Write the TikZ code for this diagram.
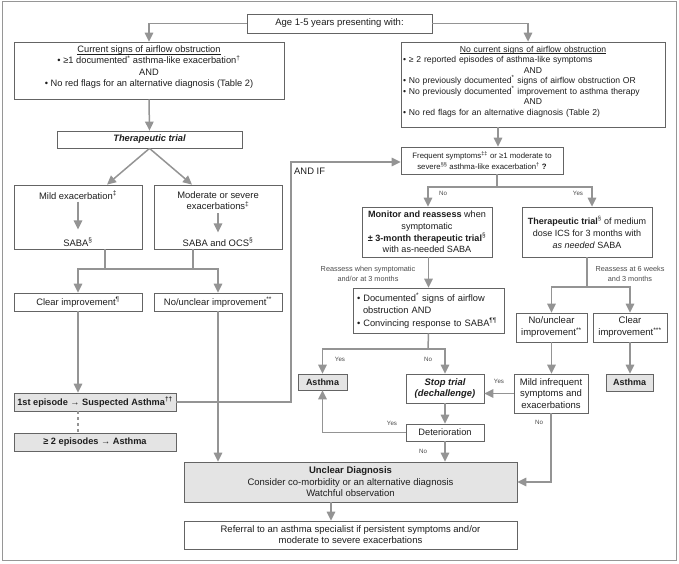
\documentclass[tikz,border=0pt]{standalone}
\usepackage{fontspec}
\setmainfont{Liberation Sans}
\usetikzlibrary{arrows.meta,calc}
\definecolor{lc}{RGB}{148,148,148}
\definecolor{bc}{RGB}{100,100,100}
\definecolor{gf}{RGB}{228,228,228}
\definecolor{tc}{RGB}{30,30,30}
\definecolor{fc}{RGB}{150,150,150}
\newcommand{\fs}[2]{\fontsize{#1}{#2}\selectfont}
\newcommand{\ctr}[1]{\makebox[260pt][c]{#1}}
\newcommand{\ulx}[1]{\underline{\smash{#1}}}
\tikzset{
 box/.style={draw=bc, line width=0.8pt, fill=white, inner sep=0pt, text=tc, font=\fs{9.4}{11}},
 gbox/.style={box, fill=gf},
 txt/.style={inner sep=0pt, text=tc, font=\fs{9.4}{11}},
 conn/.style={draw=lc, line width=1.5pt},
 arr/.style={conn, -{Triangle[length=9pt,width=8.5pt]}},
 lab/.style={font=\fs{6.2}{7.5}, text=tc!80, inner sep=0pt},
 rlab/.style={font=\fs{7.3}{9.5}, text=tc!80, inner sep=0pt, align=center},
}
\begin{document}
\begin{tikzpicture}[x=1pt,y=-1pt]
\useasboundingbox (0,0) rectangle (679,564);
\draw[fc, line width=1pt] (2,2) rectangle (676,560);

% nodes
\node[box, minimum width=185pt, minimum height=19pt, font=\fs{9.5}{11}] (age) at (339.5,23.5) {Age 1-5 years presenting with:};
\node[box, minimum width=270pt, minimum height=57pt, align=center, font=\fs{9.3}{11.3}] (l1) at (149,70.5)
 {\ulx{Current signs of airflow obstruction}\\ • ≥1 documented\textsuperscript{*} asthma-like exacerbation\textsuperscript{†}\\AND\\• No red flags for an alternative diagnosis (Table 2)};
\node[box, minimum width=185pt, minimum height=17pt, font=\fs{9.3}{11}\bfseries\itshape] (tt) at (149.5,139.5) {Therapeutic trial};
\node[box, minimum width=128pt, minimum height=64pt] (mild) at (78,217) {};
\node[txt] (mildt) at (78,195) {Mild exacerbation\textsuperscript{‡}};
\node[txt] (milds) at (78,242) {SABA\textsuperscript{§}};
\node[box, minimum width=128pt, minimum height=64pt] (mod) at (218,217) {};
\node[txt, align=center] (modt) at (218,201) {Moderate or severe\\exacerbations\textsuperscript{‡}};
\node[txt] (mods) at (218,242) {SABA and OCS\textsuperscript{§}};
\node[box, minimum width=128pt, minimum height=18pt] (ci) at (78,302) {Clear improvement\textsuperscript{¶}};
\node[box, minimum width=128pt, minimum height=18pt] (nu) at (218,302) {No/unclear improvement\textsuperscript{**}};
\node[gbox, minimum width=162pt, minimum height=18pt, font=\fs{9.2}{11}\bfseries] (fe) at (95,402) {1st episode → Suspected Asthma\textsuperscript{††}};
\node[gbox, minimum width=162pt, minimum height=18pt, font=\fs{9.2}{11}\bfseries] (e2) at (95,442) {≥ 2 episodes → Asthma};

\node[box, minimum width=264pt, minimum height=85pt, text width=260pt, align=left, font=\fs{8.6}{10.5}] (r1) at (533,84.5)
 {\ctr{\ulx{No current signs of airflow obstruction}}\\• ≥ 2 reported episodes of asthma-like symptoms\\\ctr{AND}\\• No previously documented\textsuperscript{*} signs of airflow obstruction OR\\• No previously documented\textsuperscript{*} improvement to asthma therapy\\\ctr{AND}\\• No red flags for an alternative diagnosis (Table 2)};
\node[box, minimum width=162pt, minimum height=27pt, align=center, font=\fs{7.8}{11.5}] (fs) at (482,160.5)
 {Frequent symptoms\textsuperscript{‡‡} or ≥1 moderate to\\severe\textsuperscript{§§} asthma-like exacerbation\textsuperscript{†} \textbf{?}};
\node[box, minimum width=130pt, minimum height=50pt, align=center, font=\fs{9.1}{11.7}] (mr) at (427,232)
 {\textbf{Monitor and reassess} when\\symptomatic\\\textbf{± 3-month therapeutic trial}\textsuperscript{§}\\with as-needed SABA};
\node[box, minimum width=130pt, minimum height=50pt, align=center, font=\fs{9}{12}] (tr) at (587,232)
 {\textbf{Therapeutic trial}\textsuperscript{§} of medium\\dose ICS for 3 months with\\\textit{as needed} SABA};
\node[box, minimum width=151pt, minimum height=45pt, text width=143pt, align=left, font=\fs{9.3}{12.5}] (doc) at (428.5,310.5)
 {• Documented\textsuperscript{*} signs of airflow\\\hspace*{6pt}obstruction AND\\• Convincing response to SABA\textsuperscript{¶¶}};
\node[gbox, minimum width=49pt, minimum height=16pt, font=\fs{9}{11}\bfseries] (as1) at (322.5,382) {Asthma};
\node[box, minimum width=78pt, minimum height=29pt, align=center, font=\fs{9.4}{11}\bfseries\itshape] (st) at (445,388.5) {Stop trial\\(dechallenge)};
\node[box, minimum width=71pt, minimum height=29pt, align=center, font=\fs{9.5}{12}] (nu2) at (551.5,327.5) {No/unclear\\improvement\textsuperscript{**}};
\node[box, minimum width=74pt, minimum height=29pt, align=center, font=\fs{9.5}{12}] (ci2) at (630,327.5) {Clear\\improvement\textsuperscript{***}};
\node[box, minimum width=74pt, minimum height=39pt, align=center, font=\fs{9.5}{11.5}] (mi) at (551,393.5) {Mild infrequent\\symptoms and\\exacerbations};
\node[gbox, minimum width=47pt, minimum height=17pt, font=\fs{9}{11}\bfseries] (as2) at (629.5,382.5) {Asthma};
\node[box, minimum width=78pt, minimum height=17pt, font=\fs{9.3}{11}] (det) at (445,432.5) {Deterioration};
\node[gbox, minimum width=333pt, minimum height=40pt, align=center, font=\fs{9.5}{11.5}] (ud) at (350.5,482)
 {\textbf{Unclear Diagnosis}\\Consider co-morbidity or an alternative diagnosis\\Watchful observation};
\node[box, minimum width=333pt, minimum height=28pt, align=center, font=\fs{9.5}{11}] (ref) at (350.5,535)
 {Referral to an asthma specialist if persistent symptoms and/or\\moderate to severe exacerbations};

% labels
\node[rlab] (lre1) at (368,274) {Reassess when symptomatic\\and/or at 3 months};
\node[rlab] (lre2) at (630,274) {Reassess at 6 weeks\\and 3 months};
\node[lab] (lno1) at (443,193) {No};
\node[lab] (lyes1) at (578,193) {Yes};
\node[lab] (lyes2) at (340,359) {Yes};
\node[lab] (lno2) at (428,359) {No};
\node[lab] (lyes3) at (499,381) {Yes};
\node[lab] (lyes4) at (392,423) {Yes};
\node[lab] (lno3) at (423,451) {No};
\node[lab] (lno4) at (539,422) {No};

% connectors
\draw[arr] (age.west) -| (l1.north);
\draw[arr] (age.east) -| ([xshift=-5pt]r1.north);
\draw[arr] (l1.south) -- (tt.north);
\draw[arr] (tt.south) -- ([xshift=29pt]mild.north);
\draw[arr] (tt.south) -- ([xshift=-26pt]mod.north);
\draw[arr, shorten <=2pt, shorten >=8pt] (mildt.south) -- (milds.north);
\draw[arr, shorten <=3pt, shorten >=5pt] (modt.south) -- (mods.north);
\coordinate (mj) at (148,269);
\draw[conn] ([xshift=27pt]mild.south) -- ([xshift=27pt]mild.south |- mj);
\draw[conn] ([xshift=-25pt]mod.south) -- ([xshift=-25pt]mod.south |- mj);
\draw[arr] (mj) -| (ci.north);
\draw[arr] (mj) -| (nu.north);
\draw[arr] (ci.south) -- (ci.south |- fe.north);
\draw[conn, dashed] (fe.south -| ci.south) -- (e2.north -| ci.south);
\draw[arr] (nu.south) -- (nu.south |- ud.north);
\coordinate (andif) at (291,162);
\draw[arr] (fe.east) -| (andif) -- (andif -| fs.west);
\node[txt, anchor=north west] (andiflab) at (294,168) {AND IF};
\draw[arr] ([xshift=-35pt]r1.south) -- ([xshift=-35pt]r1.south |- fs.north);
\coordinate (fj) at (497,187);
\draw[conn] (fs.south -| fj) -- (fj);
\draw[arr] (fj) -| ([xshift=1pt]mr.north);
\draw[arr] (fj) -| ([xshift=5pt]tr.north);
\draw[arr] (doc.north |- mr.south) -- (doc.north);
\coordinate (dj) at (428,349);
\draw[conn] (doc.south) -- (dj);
\draw[arr] (dj) -| (as1.north);
\draw[arr] (dj) -| (st.north);
\draw[arr] (mi.west) -- (mi.west -| st.east);
\draw[arr] (st.south) -- (det.north);
\draw[arr] (det.west) -| (as1.south);
\draw[arr] (det.south) -- (det.south |- ud.north);
\draw[arr] (mi.south) |- (ud.east);
\coordinate (tj) at (587,287);
\draw[conn] (tr.south) -- (tj);
\draw[arr] (tj) -| (nu2.north);
\draw[arr] (tj) -| (ci2.north);
\draw[arr] (nu2.south) -- (nu2.south |- mi.north);
\draw[arr] (ci2.south) -- (ci2.south |- as2.north);
\draw[arr] ([xshift=-19.5pt]ud.south) -- ([xshift=-19.5pt]ud.south |- ref.north);
\end{tikzpicture}
\end{document}
